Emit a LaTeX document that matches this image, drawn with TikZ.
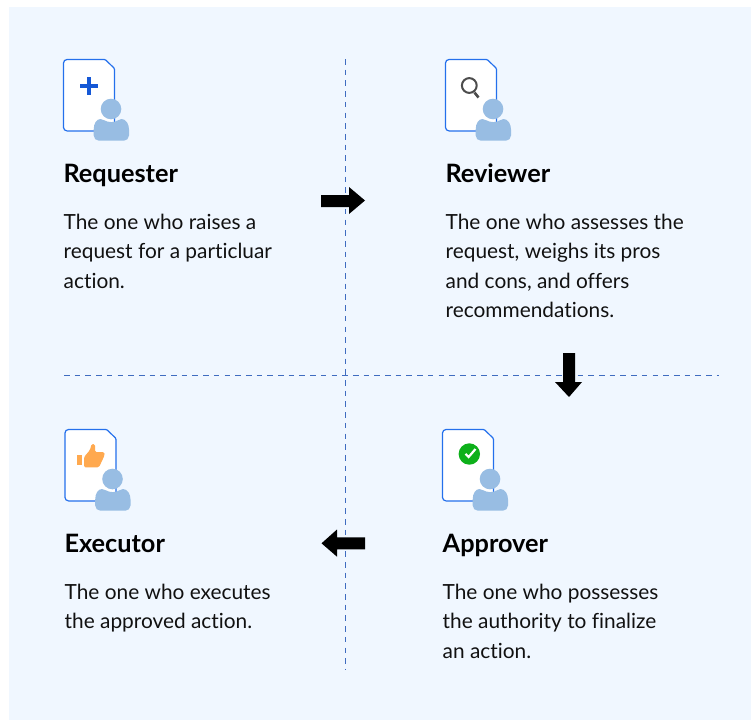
\documentclass[tikz,border=0pt]{standalone}
\usepackage{fontspec}
\setmainfont{Lato}[Ligatures=NoCommon]
\definecolor{panel}{HTML}{F0F7FF}
\definecolor{docblue}{HTML}{2470EC}
\definecolor{person}{HTML}{98BDE3}
\definecolor{dashc}{HTML}{3F6CC0}
\definecolor{plusc}{HTML}{1558D6}
\definecolor{thumb}{HTML}{FFA94F}
\definecolor{okgreen}{HTML}{0DB01A}
\definecolor{inkc}{HTML}{111111}
\tikzset{
  head/.style={anchor=base west,inner sep=0pt,font=\fontsize{25.3}{30}\selectfont\bfseries,text=black},
  body/.style={anchor=base west,inner sep=0pt,font=\fontsize{20.85}{29.5}\selectfont,text=inkc,align=left},
  divider/.style={draw=dashc,line width=1pt,dash pattern=on 5.6pt off 5.1pt},
  blockarrow/.style={fill=black,draw=none},
  docshape/.style={draw=docblue,fill=white,line width=1.2pt},
  personfill/.style={fill=person,draw=none},
}
\newcommand{\docperson}[2]{%
  \begin{scope}[shift={(#1,#2)}]
    \draw[docshape] (0,35) [rounded corners=3.5pt] -- (0,0) [rounded corners=1pt] -- (41.7,0) -- (51,9) [rounded corners=3.5pt] -- (51,71.4) -- (0,71.4) -- cycle;
    \fill[personfill] (47.5,49.5) circle (10.3);
    \fill[personfill] (35.5,81.2) .. controls (32.5,81.2) and (30.2,79) .. (30.2,76) -- (30.2,70) .. controls (30.2,64) and (33,59.5) .. (37,59.5) .. controls (41,59.5) and (41.5,62.6) .. (47.8,62.6) .. controls (54,62.6) and (54.5,59.5) .. (58,59.5) .. controls (62.5,59.5) and (65.5,64.5) .. (65.5,70) -- (65.5,76) .. controls (65.5,79) and (63,81.2) .. (60.5,81.2) -- cycle;
  \end{scope}}
\begin{document}
\begin{tikzpicture}[x=1pt,y=-1pt]
\useasboundingbox (0,0) rectangle (751,720);
\fill[white] (0,0) rectangle (751,720);
\fill[panel] (9,7) rectangle (751,720);
% dividers
\coordinate (vt) at (345.7,59);
\coordinate (vb) at (345.7,669);
\coordinate (hl) at (64,375.5);
\coordinate (hr) at (719,375.5);
\draw[divider] (vt) -- (vb);
\draw[divider] (hl) -- (hr);
% arrows
\fill[blockarrow] (321,195) -- (349,195) -- (349,187) -- (365,200.5) -- (349,214) -- (349,207) -- (321,207) -- cycle;
\fill[blockarrow] (563,353) -- (575,353) -- (575,382) -- (582,382) -- (569,397) -- (555,382) -- (563,382) -- cycle;
\fill[blockarrow] (365,537.3) -- (337,537.3) -- (337,529.5) -- (321.5,543.3) -- (337,556.7) -- (337,549.3) -- (365,549.3) -- cycle;
% icons
\docperson{63.5}{59.5}
\docperson{445.5}{59.5}
\docperson{65}{429.5}
\docperson{442.5}{429.5}
% plus
\fill[plusc] (87.4,77) rectangle (90.6,95);
\fill[plusc] (80,84.4) rectangle (98,87.6);
% magnifier
\draw[black!70,line width=2pt] (469.3,85.5) circle (7.4);
\draw[black!70,line width=2.6pt] (474.5,92.5) -- (478.5,97.5);
% thumb
\fill[thumb] (77,455) rectangle (82.3,465);
\fill[thumb,rounded corners=1.5pt] (84,457) -- (90,450) -- (91.5,444) -- (95,444) -- (95,452) -- (104.5,452) -- (104.5,455.5) -- (99,467.3) -- (84,467.3) -- cycle;
% check
\fill[okgreen] (469.3,454) circle (10.7);
\draw[white,line width=2.2pt] (465.5,453.8) -- (468.6,457) -- (475.5,449);
% texts
\node[head] (t1) at (63.3,182.3) {Requester};
\node[head] (t2) at (445.3,182.3) {Reviewer};
\node[head] (t3) at (64.3,552.3) {Executor};
\node[head] (t4) at (442.5,552.3) {Approver};
\node[body] (b1) at (63.5,229) {The one who raises a};
\node[body] (b1b) at (63.5,258.5) {request for a particluar};
\node[body] (b1c) at (63.5,288) {action.};
\node[body] (b2) at (445.5,229) {The one who assesses the};
\node[body] (b2b) at (445.5,258.5) {request, weighs its pros};
\node[body] (b2c) at (445.5,288) {and cons, and offers};
\node[body] (b2d) at (445.5,317.5) {recommendations.};
\node[body] (b3) at (64.5,599) {The one who executes};
\node[body] (b3b) at (64.5,628.5) {the approved action.};
\node[body] (b4) at (442.5,599) {The one who possesses};
\node[body] (b4b) at (442.5,628.5) {the authority to finalize};
\node[body] (b4c) at (442.5,658) {an action.};
\end{tikzpicture}
\end{document}
